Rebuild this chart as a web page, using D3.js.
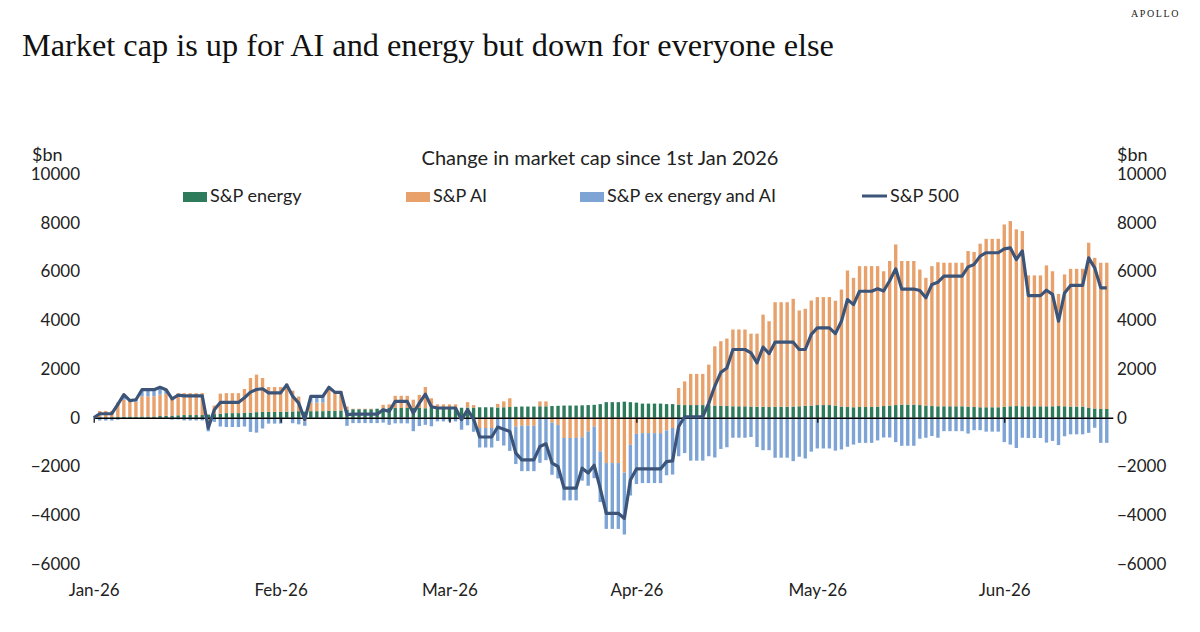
<!DOCTYPE html>
<html>
<head>
<meta charset="utf-8">
<script src="https://cdn.jsdelivr.net/npm/d3@7"></script>
<style>
  body { margin: 0; background: #fff; }
  svg { display: block; }
</style>
</head>
<body>
<script>
// Daily values in $bn, Jan 1 to Jun 18 2026 (weekends/holidays carry the last close)
// one row per week, Mon..Sun (first row starts Thu Jan 1, last row ends Thu Jun 18)
var energy = [
  0,20,20,20,
  30,40,50,40,50,50,50,
  70,80,90,100,110,110,110,
  110,130,150,170,190,190,190,
  200,210,230,240,240,240,240,
  250,260,270,250,270,270,270,
  280,290,300,330,350,350,350,
  350,370,380,400,400,400,400,
  410,400,390,400,400,400,400,
  400,410,420,420,430,430,430,
  420,430,440,450,460,460,460,
  470,470,480,490,500,500,500,
  510,520,530,560,640,640,640,
  660,640,620,580,580,580,580,
  560,560,540,520,520,520,520,
  520,500,490,480,470,470,470,
  460,450,450,440,450,450,450,
  460,470,490,500,520,520,520,
  500,460,440,430,440,440,440,
  460,480,500,520,540,540,540,
  520,500,480,470,470,470,470,
  470,460,440,430,430,430,430,
  450,470,480,470,470,470,470,
  470,470,480,470,460,460,460,
  420,380,360,360
];

var ai = [
  0,260,260,260,
  600,700,600,620,830,830,830,
  880,900,760,900,900,900,900,
  900,-150,350,820,820,820,820,
  980,1420,1540,1390,1020,1020,1020,
  1150,850,600,-150,350,350,350,
  900,800,800,130,20,20,20,
  20,0,150,150,500,500,500,
  330,540,870,400,150,150,150,
  150,-50,220,100,-420,-420,-420,
  150,240,360,-360,-330,-330,-330,
  200,200,-200,-300,-830,-830,-830,
  -800,-560,-360,-1380,-1860,-1860,-1860,
  -2250,-1110,-660,-630,-630,-630,-630,
  -520,-420,680,970,1280,1280,1280,
  1660,2430,2650,2770,3150,3150,3150,
  2990,3000,3780,3520,4290,4290,4290,
  4420,3930,3980,4310,4430,4430,4430,
  4300,4800,5600,5310,5780,5780,5780,
  5760,5530,5930,6590,5890,5890,5890,
  5560,5240,5740,5910,5890,5890,5890,
  5890,6380,6360,6710,6910,6910,6910,
  7480,7600,7250,7190,5370,5370,5370,
  5780,5540,4600,5410,5650,5650,5650,
  6760,6180,6000,6000
];

var exEnergyAI = [
  0,-115,-115,-115,
  -80,210,50,80,270,270,270,
  300,170,-80,-70,-110,-110,-110,
  -110,-405,-170,-360,-380,-380,-380,
  -360,-580,-610,-440,-240,-240,-240,
  -50,-225,-270,-180,255,255,255,
  70,-50,-60,-330,-220,-220,-220,
  -220,-220,-200,-290,-230,-230,-230,
  -550,-340,-290,-350,-150,-150,-150,
  -150,-440,-310,-575,-800,-800,-800,
  -950,-1140,-1360,-1540,-1860,-1860,-1860,
  -1850,-1740,-2140,-2190,-2560,-2560,-2560,
  -1780,-2230,-2120,-2080,-2700,-2700,-2700,
  -2540,-2080,-2060,-2050,-2050,-2050,-2050,
  -1840,-1910,-1580,-1450,-1760,-1760,-1760,
  -1580,-1630,-1280,-1210,-820,-820,-820,
  -790,-1200,-1330,-1330,-1640,-1640,-1640,
  -1780,-1600,-1670,-1390,-1260,-1260,-1260,
  -1350,-1300,-1190,-1100,-1030,-1030,-1030,
  -930,-810,-810,-1000,-1150,-1150,-1150,
  -860,-820,-750,-820,-550,-550,-550,
  -550,-650,-510,-510,-570,-570,-570,
  -1000,-1100,-1240,-820,-830,-830,-830,
  -1020,-950,-1120,-760,-680,-680,-680,
  -620,-410,-1030,-1030
];

var sp500 = [
  0,165,165,165,
  550,950,700,740,1150,1150,1150,
  1250,1150,770,930,900,900,900,
  900,-425,330,630,630,630,630,
  820,1050,1160,1190,1020,1020,1020,
  1350,885,600,-80,875,875,875,
  1250,1040,1040,130,150,150,150,
  150,150,330,260,670,670,670,
  190,600,970,450,400,400,400,
  400,-80,330,-55,-790,-790,-790,
  -380,-470,-560,-1450,-1730,-1730,-1730,
  -1180,-1070,-1860,-2000,-2890,-2890,-2890,
  -2070,-2270,-1950,-2900,-3920,-3920,-3920,
  -4130,-2550,-2100,-2100,-2100,-2100,-2100,
  -1800,-1770,-360,40,40,40,40,
  600,1300,1860,2040,2800,2800,2800,
  2660,2250,2900,2630,3100,3100,3100,
  3100,2800,2800,3420,3690,3690,3690,
  3450,3960,4850,4640,5190,5190,5190,
  5290,5200,5620,6110,5280,5280,5280,
  5220,4920,5470,5560,5810,5810,5810,
  5810,6190,6290,6630,6770,6770,6770,
  6930,6970,6490,6840,5010,5010,5010,
  5230,5060,3960,5120,5430,5430,5430,
  6560,6150,5330,5330
];

var yTicks = [-6000,-4000,-2000,0,2000,4000,6000,8000,10000];
var seriesNames = ["S&P energy", "S&P AI", "S&P ex energy and AI", "S&P 500"];
var colors = ["#2e7b5c", "#e8a16b", "#7da4d5", "#3b5478"];

var startDate = new Date(2026, 0, 1);
var endDate = new Date(2026, 5, 19);
var dates = d3.timeDay.range(startDate, endDate);

var rows = dates.map(function(d, i) {
  return { date: d, energy: energy[i], ai: ai[i], ex: exEnergyAI[i], total: sp500[i] };
});

var width = 1200;
var height = 632;

var svg = d3.select("body")
  .append("svg")
  .attr("width", width)
  .attr("height", height);

var x = d3.scaleTime()
  .domain([startDate, endDate])
  .range([93.7, 1112.8]);

var y = d3.scaleLinear()
  .domain([-6000, 10000])
  .range([564, 174]);

var dayW = x(new Date(2026, 0, 2)) - x(startDate);
var barW = dayW * 0.56;

// header
svg.append("text")
  .attr("x", 1180).attr("y", 17)
  .attr("text-anchor", "end")
  .style("font-family", "Liberation Serif, serif")
  .style("font-size", "10px")
  .style("letter-spacing", "1.6px")
  .attr("fill", "#222")
  .text("APOLLO");

svg.append("text")
  .attr("x", 22).attr("y", 56)
  .style("font-family", "Liberation Serif, serif")
  .style("font-size", "32.3px")
  .attr("fill", "#111")
  .text("Market cap is up for AI and energy but down for everyone else");

var sans = "Lato, 'Noto Sans', sans-serif";

svg.append("text")
  .attr("x", 600).attr("y", 165)
  .attr("text-anchor", "middle")
  .style("font-family", sans)
  .style("font-size", "20px")
  .attr("fill", "#222")
  .text("Change in market cap since 1st Jan 2026");

svg.append("text")
  .attr("x", 32).attr("y", 161)
  .style("font-family", sans).style("font-size", "18px").attr("fill", "#222")
  .text("$bn");
svg.append("text")
  .attr("x", 1117).attr("y", 161)
  .style("font-family", sans).style("font-size", "18px").attr("fill", "#222")
  .text("$bn");

// legend
var legendTextX = [210, 433, 607, 890];
var legend = svg.append("g");
seriesNames.forEach(function(name, i) {
  var tx = legendTextX[i];
  if (i < 3) {
    legend.append("rect")
      .attr("x", tx - 27).attr("y", 192)
      .attr("width", 24).attr("height", 10)
      .attr("fill", colors[i]);
  } else {
    legend.append("line")
      .attr("x1", tx - 28).attr("x2", tx - 3)
      .attr("y1", 196).attr("y2", 196)
      .attr("stroke", colors[i]).attr("stroke-width", 3);
  }
  legend.append("text")
    .attr("x", tx).attr("y", 202)
    .style("font-family", sans).style("font-size", "18px").attr("fill", "#222")
    .text(name);
});

// y axes
var yFormat = d3.format("d");
var yLeft = svg.append("g")
  .attr("transform", "translate(83,0)")
  .call(d3.axisLeft(y).tickValues(yTicks).tickFormat(yFormat).tickSize(0).tickPadding(3));
var yRight = svg.append("g")
  .attr("transform", "translate(1114,0)")
  .call(d3.axisRight(y).tickValues(yTicks).tickFormat(yFormat).tickSize(0).tickPadding(3));
[yLeft, yRight].forEach(function(g) {
  g.select(".domain").remove();
  g.selectAll("text")
    .style("font-family", sans)
    .style("font-size", "17px")
    .attr("fill", "#222");
});

// stacked bars (positives up, negatives down)
var stack = d3.stack()
  .keys(["energy", "ai", "ex"])
  .offset(d3.stackOffsetDiverging);
var layers = stack(rows);

svg.append("g")
  .selectAll("g")
  .data(layers)
  .join("g")
    .attr("fill", function(d, i) { return colors[i]; })
  .selectAll("rect")
  .data(function(d) { return d; })
  .join("rect")
    .attr("x", function(d) { return x(d.data.date) - barW / 2; })
    .attr("y", function(d) { return y(Math.max(d[0], d[1])); })
    .attr("width", barW)
    .attr("height", function(d) { return Math.abs(y(d[0]) - y(d[1])); });

// zero axis with month ticks
var xAxis = svg.append("g")
  .attr("transform", "translate(0," + y(0) + ")")
  .call(d3.axisBottom(x)
    .ticks(d3.timeMonth.every(1))
    .tickFormat(d3.timeFormat("%b-%y"))
    .tickSizeInner(5)
    .tickSizeOuter(0));
xAxis.select(".domain").attr("stroke", "#000").attr("stroke-width", 1.6);
xAxis.selectAll(".tick line").attr("stroke", "#000").attr("stroke-width", 1.2);
xAxis.selectAll("text")
  .attr("y", 596 - y(0))
  .attr("dy", null)
  .style("font-family", sans)
  .style("font-size", "17px")
  .attr("fill", "#222");

// S&P 500 line
var line = d3.line()
  .x(function(d) { return x(d.date); })
  .y(function(d) { return y(d.total); });

svg.append("path")
  .datum(rows)
  .attr("fill", "none")
  .attr("stroke", colors[3])
  .attr("stroke-width", 3.2)
  .attr("stroke-linejoin", "round")
  .attr("d", line);
</script>
</body>
</html>
